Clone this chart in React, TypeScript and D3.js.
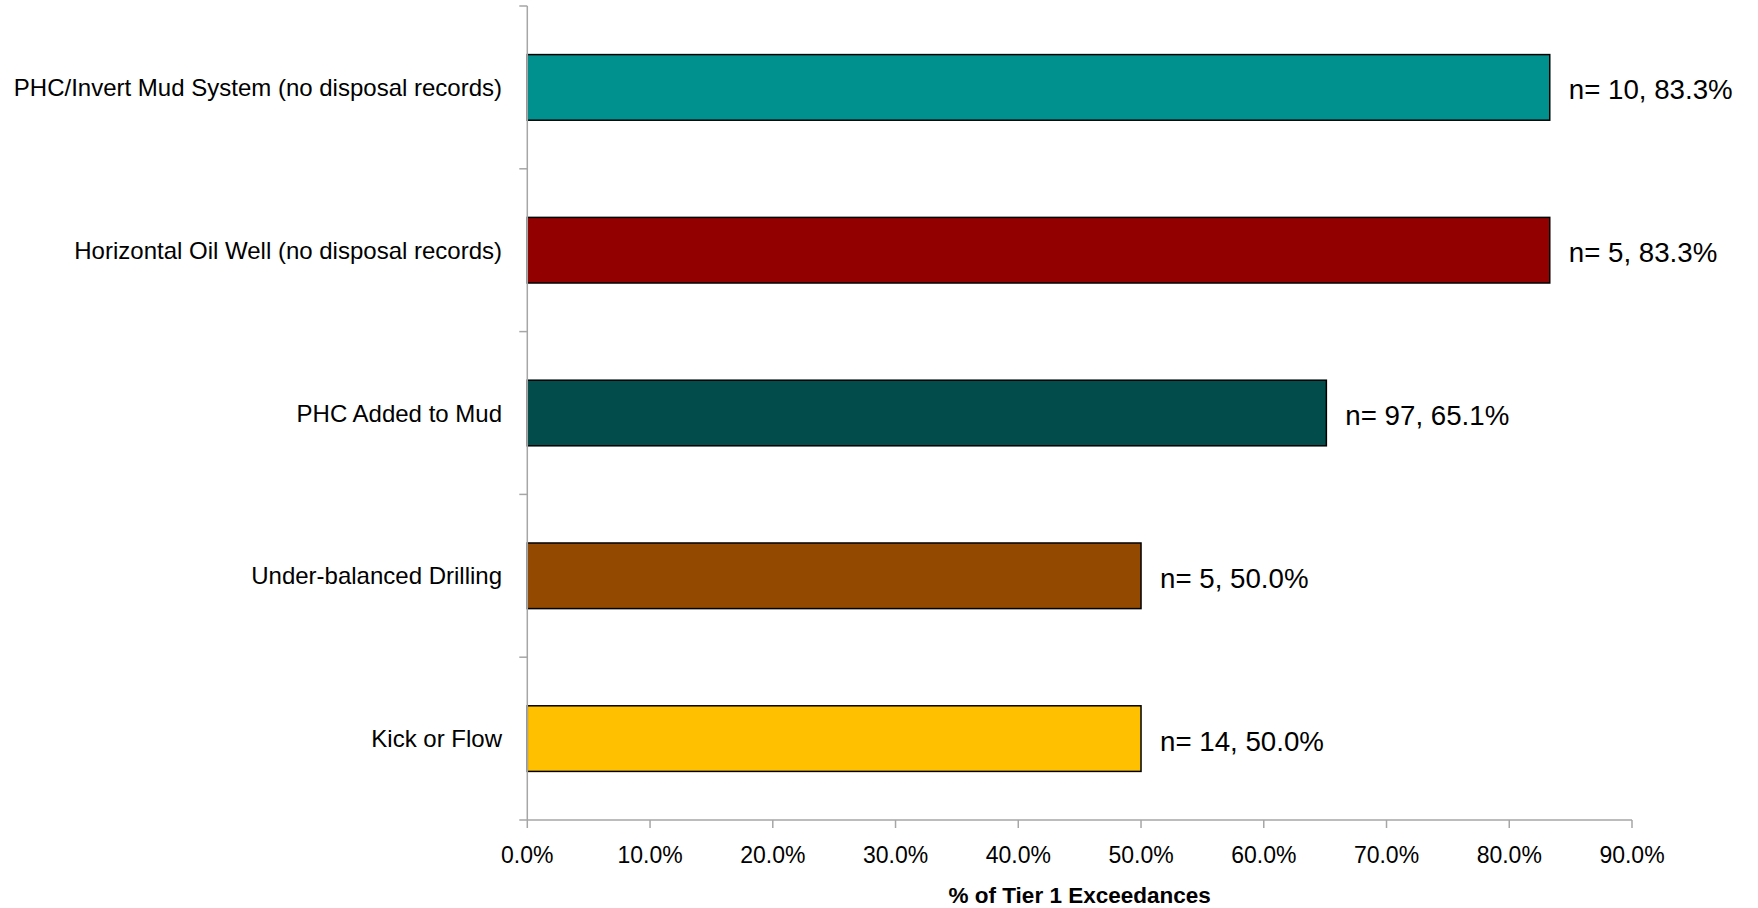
import React from "react";
import * as d3 from "d3";

const categories = [
  "PHC/Invert Mud System (no disposal records)",
  "Horizontal Oil Well (no disposal records)",
  "PHC Added to Mud",
  "Under-balanced Drilling",
  "Kick or Flow",
];
const values = [0.833, 0.833, 0.651, 0.5, 0.5];
const counts = [10, 5, 97, 5, 14];
const colors = ["#00918F", "#920000", "#024D4B", "#934A00", "#FFC000"];
const xTicks = [0, 0.1, 0.2, 0.3, 0.4, 0.5, 0.6, 0.7, 0.8, 0.9];
const xTitle = "% of Tier 1 Exceedances";

const W = 1758;
const H = 908;
const FONT = "'Liberation Sans', Arial, sans-serif";
const AXIS = "#a6a6a6";

export default function App() {
  const x = d3.scaleLinear().domain([0, 0.9]).range([527.3, 1632]);
  const pi = 0.597;
  const y = d3
    .scaleBand<string>()
    .domain(categories)
    .range([6, 820])
    .paddingInner(pi)
    .paddingOuter(pi / 2);
  const step = y.step();
  const fmt = d3.format(".1%");
  const x0 = x(0);
  const yBottom = 820;

  return (
    <svg
      width={W}
      height={H}
      style={{ position: "absolute", left: 0, top: 0, background: "#fff" }}
      fontFamily={FONT}
    >
      {/* bars */}
      {categories.map((c, i) => (
        <rect
          key={c}
          x={x0}
          y={y(c)!}
          width={x(values[i]) - x0}
          height={y.bandwidth()}
          fill={colors[i]}
          stroke="#000"
          strokeWidth={1.5}
        />
      ))}
      {/* y axis */}
      <line x1={x0} x2={x0} y1={6} y2={yBottom} stroke={AXIS} strokeWidth={1.5} />
      {d3.range(categories.length + 1).map((i) => (
        <line
          key={"yt" + i}
          x1={x0 - 8}
          x2={x0}
          y1={6 + i * step}
          y2={6 + i * step}
          stroke={AXIS}
          strokeWidth={1.5}
        />
      ))}
      {/* x axis */}
      <line x1={x0} x2={x(0.9)} y1={yBottom} y2={yBottom} stroke={AXIS} strokeWidth={1.5} />
      {xTicks.map((t) => (
        <g key={"xt" + t}>
          <line x1={x(t)} x2={x(t)} y1={yBottom} y2={yBottom + 8} stroke={AXIS} strokeWidth={1.5} />
          <text x={x(t)} y={863} textAnchor="middle" fontSize={23} fill="#000">
            {fmt(t)}
          </text>
        </g>
      ))}
      {/* category labels */}
      {categories.map((c) => (
        <text
          key={"cl" + c}
          x={502}
          y={y(c)! + y.bandwidth() / 2 + 8.5}
          textAnchor="end"
          fontSize={24}
          fill="#000"
        >
          {c}
        </text>
      ))}
      {/* value labels */}
      {categories.map((c, i) => (
        <text
          key={"vl" + c}
          x={x(values[i]) + 19}
          y={y(c)! + y.bandwidth() / 2 + 12}
          fontSize={27.7}
          fill="#000"
        >
          {`n= ${counts[i]}, ${fmt(values[i])}`}
        </text>
      ))}
      {/* x title */}
      <text
        x={(x(0) + x(0.9)) / 2}
        y={903}
        textAnchor="middle"
        fontSize={22.5}
        fontWeight="bold"
        fill="#000"
      >
        {xTitle}
      </text>
    </svg>
  );
}
